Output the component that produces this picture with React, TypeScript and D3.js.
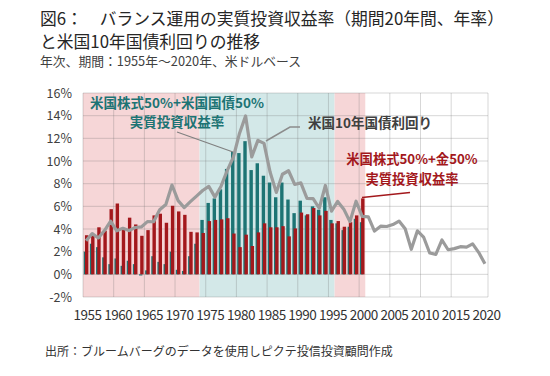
import React from 'react';
import * as d3 from 'd3';

const years: number[] = d3.range(1955, 2021);
const barYears: number[] = d3.range(1955, 2001);

// 米国株式50%+米国国債50% 実質投資収益率 (1955-2000)
const bondMix = [
  2.0, 2.7, 2.4, 1.5, 0.9, 1.4, 0.75, 1.2, 0.9, -0.1,
  0.35, 1.6, 1.1, 0.9, 2.0, 0.4, 0.3, 1.6, 2.7, 4.8,
  6.3, 6.7, 7.5, 9.3, 10.8, 10.7, 11.75, 9.2, 9.8, 8.7,
  8.1, 6.8, 8.1, 6.6, 5.4, 6.5, 5.2, 6.0, 5.7, 6.8,
  4.8, 4.5, 3.9, 4.2, 4.9, 4.6,
];

// 米国株式50%+金50% 実質投資収益率 (1955-2000)
const goldMix = [
  3.45, 3.4, 4.15, 3.85, 5.75, 6.25, 4.0, 5.0, 4.4, 3.4,
  3.9, 5.2, 5.35, 4.55, 6.05, 5.55, 5.25, 3.75, 3.7, 3.65,
  4.7, 4.8, 4.85, 4.95, 3.6, 2.4, 3.5, 2.5, 3.7, 4.5,
  4.15, 4.15, 4.25, 3.35, 4.05, 5.45, 5.3, 5.85, 5.2, 5.6,
  4.5, 4.7, 4.2, 4.6, 5.2, 6.7,
];

// 米国10年国債利回り (1955-2020)
const yield10 = [
  2.96, 3.59, 3.21, 3.86, 4.69, 3.84, 4.06, 3.86, 4.13, 4.18,
  4.65, 4.64, 5.70, 6.16, 7.88, 6.50, 5.89, 6.41, 6.90, 7.40,
  7.76, 6.81, 7.78, 9.15, 10.33, 12.43, 13.98, 10.36, 11.82, 11.55,
  9.00, 7.23, 8.83, 9.14, 7.93, 8.07, 6.70, 6.68, 5.83, 7.84,
  5.58, 6.43, 5.75, 4.65, 6.45, 5.12, 5.07, 3.82, 4.25, 4.22,
  4.39, 4.70, 4.02, 2.21, 3.84, 3.29, 1.88, 1.76, 3.03, 2.17,
  2.27, 2.44, 2.40, 2.69, 1.92, 0.93,
];

const xTickYears = [1955, 1960, 1965, 1970, 1975, 1980, 1985, 1990, 1995, 2000, 2005, 2010, 2015, 2020];
const yTicks = [-2, 0, 2, 4, 6, 8, 10, 12, 14, 16];
const gridYears = [1955, 1960, 1965, 1970, 1975, 1980, 1985, 1990, 1995, 2000, 2005, 2010, 2015];

const periodStart = [1955, 1974, 1996];
const periodEnd = [1973, 1995, 2000];
const periodKind = ['gold', 'bond', 'gold'];

const FONT = '"Noto Sans CJK JP", "Noto Sans", sans-serif';

export default function App() {
  const left = 83, right = 488, top = 93, bottom = 297;
  const x = d3.scaleBand<number>().domain(years).range([left, right]).padding(0);
  const y = d3.scaleLinear().domain([-2, 16]).range([bottom, top]);
  const bw = x.bandwidth();
  const cx = (yr: number) => (x(yr) as number) + bw / 2;
  const barW = 3.4;

  const line = d3.line<number>()
    .x((_, i) => cx(years[i]))
    .y((d) => y(d));

  const bgColor: Record<string, string> = { gold: '#f6d6d7', bond: '#d3e8e8' };

  return (
    <svg width={550} height={376} style={{ position: 'absolute', left: 0, top: 0, background: '#fff' }} fontFamily={FONT}>
      {/* titles */}
      <text x={40} y={25} fontSize={16.8} fill="#262626">図6：　バランス運用の実質投資収益率（期間20年間、年率）</text>
      <text x={40} y={47.5} fontSize={16.8} fill="#262626">と米国10年国債利回りの推移</text>
      <text x={40} y={66} fontSize={12.8} fill="#404040">年次、期間：1955年～2020年、米ドルベース</text>

      {/* background periods */}
      {periodStart.map((s, i) => (
        <rect key={'bg' + i}
          x={x(s) as number}
          y={top}
          width={(x(periodEnd[i]) as number) + bw - (x(s) as number)}
          height={bottom - top}
          fill={bgColor[periodKind[i]]} />
      ))}

      {/* gridlines */}
      {yTicks.map((t) => (
        <line key={'gy' + t} x1={left} x2={right} y1={y(t)} y2={y(t)} stroke="rgba(110,110,110,0.28)" strokeWidth={1} />
      ))}
      {gridYears.map((g) => (
        <line key={'gx' + g} x1={x(g) as number} x2={x(g) as number} y1={top} y2={bottom} stroke="rgba(110,110,110,0.28)" strokeWidth={1} />
      ))}
      <line x1={right} x2={right} y1={top} y2={bottom} stroke="rgba(110,110,110,0.28)" strokeWidth={1} />

      {/* bars */}
      {barYears.map((yr, i) => {
        const v = bondMix[i];
        return (
          <rect key={'b' + yr} x={cx(yr) - 2.3} width={barW}
            y={y(Math.max(0, v))} height={Math.abs(y(v) - y(0))} fill="#1d7474" />
        );
      })}
      {barYears.map((yr, i) => {
        const v = goldMix[i];
        return (
          <rect key={'g' + yr} x={cx(yr) - 1.1} width={barW}
            y={y(Math.max(0, v))} height={Math.abs(y(v) - y(0))} fill="#a3181c" />
        );
      })}

      {/* yield line */}
      <path d={line(yield10) || ''} fill="none" stroke="#9b9b9b" strokeWidth={3.2} strokeLinejoin="round" />

      {/* axis labels */}
      {yTicks.map((t) => (
        <text key={'yl' + t} x={72} y={y(t) + 4.5} textAnchor="end" fontSize={12.5} fill="#404040">{t}%</text>
      ))}
      {xTickYears.map((yr) => (
        <text key={'xl' + yr} x={cx(yr) + 1.5} y={320} textAnchor="middle" fontSize={13.5} fill="#333" letterSpacing={-0.5}>{yr}</text>
      ))}

      {/* annotations */}
      <line x1={177} y1={132} x2={233} y2={152} stroke="#808080" strokeWidth={1.2} />
      <text x={177} y={107.5} textAnchor="middle" fontSize={13.5} fontWeight={700} fill="#1d7474">米国株式50%+米国国債50%</text>
      <text x={177} y={127} textAnchor="middle" fontSize={13.5} fontWeight={700} fill="#1d7474">実質投資収益率</text>

      <polyline points="266,141 290,127 300,127" fill="none" stroke="#8c8c8c" strokeWidth={1.5} />
      <text x={308} y={128} fontSize={13.5} fontWeight={700} fill="#404040">米国10年国債利回り</text>

      <line x1={362} y1={197.5} x2={410} y2={192.5} stroke="#a3181c" strokeWidth={1.5} />
      <text x={412} y={164} textAnchor="middle" fontSize={13.3} fontWeight={700} fill="#a3181c">米国株式50%+金50%</text>
      <text x={412} y={183.5} textAnchor="middle" fontSize={13.3} fontWeight={700} fill="#a3181c">実質投資収益率</text>

      {/* footer */}
      <text x={45} y={356} fontSize={12} fill="#333">出所：ブルームバーグのデータを使用しピクテ投信投資顧問作成</text>
    </svg>
  );
}
